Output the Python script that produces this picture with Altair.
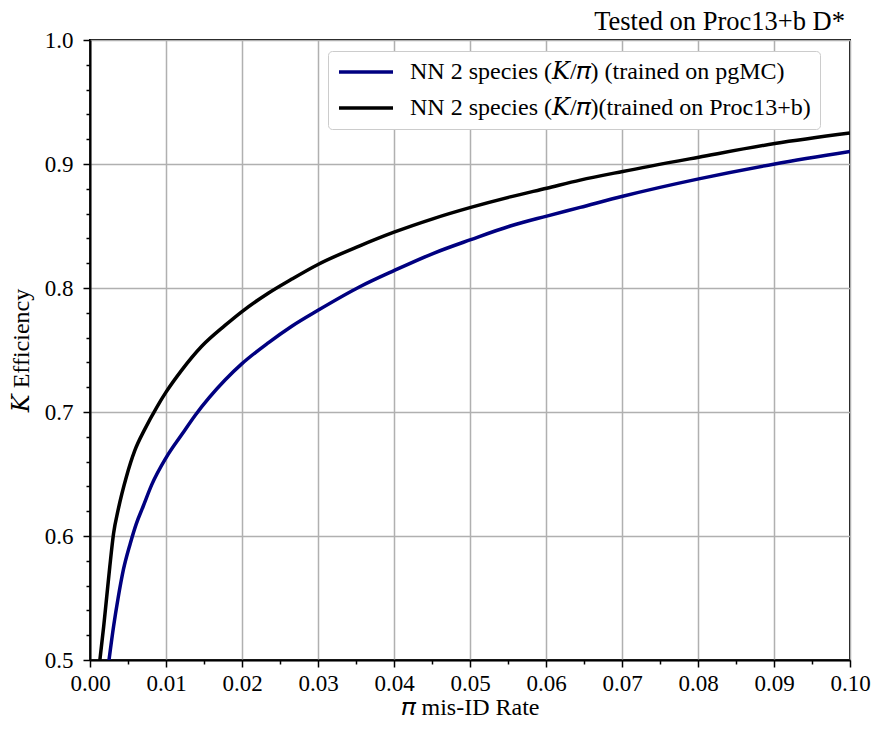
import altair as alt
import pandas as pd

# --- data ---
x_proc = [0.0013, 0.0018, 0.0022, 0.0026, 0.0031, 0.0037, 0.0048, 0.0059, 0.0072, 0.0088,
          0.0100, 0.0121, 0.0147, 0.0178, 0.0200, 0.0235, 0.0265, 0.0300, 0.0355, 0.0400,
          0.0452, 0.0501, 0.0553, 0.0601, 0.0645, 0.0701, 0.0801, 0.0901, 0.1000]
y_proc = [0.500, 0.527, 0.551, 0.575, 0.602, 0.621, 0.648, 0.669, 0.686, 0.704,
          0.716, 0.734, 0.753, 0.770, 0.781, 0.796, 0.807, 0.819, 0.834, 0.845,
          0.856, 0.865, 0.8735, 0.8805, 0.887, 0.894, 0.9055, 0.9165, 0.925]

x_pgmc = [0.0025, 0.0031, 0.0037, 0.0044, 0.0053, 0.0061, 0.0070, 0.0081, 0.0100, 0.0121,
          0.0138, 0.0178, 0.0200, 0.0235, 0.0265, 0.0300, 0.0355, 0.0400, 0.0452, 0.0501,
          0.0553, 0.0601, 0.0645, 0.0701, 0.0801, 0.0901, 0.1000]
y_pgmc = [0.500, 0.527, 0.550, 0.573, 0.594, 0.610, 0.624, 0.641, 0.663, 0.682,
          0.697, 0.726, 0.739, 0.756, 0.769, 0.782, 0.801, 0.814, 0.828, 0.839,
          0.850, 0.858, 0.865, 0.874, 0.888, 0.900, 0.910]

label_pgmc = "NN 2 species (𝐾/𝜋) (trained on pgMC)"
label_proc = "NN 2 species (𝐾/𝜋)(trained on Proc13+b)"
series_labels = [label_pgmc, label_proc]
series_colors = ["#000080", "#000000"]

x_major = [0.00, 0.01, 0.02, 0.03, 0.04, 0.05, 0.06, 0.07, 0.08, 0.09, 0.10]
x_minor = [0.005, 0.015, 0.025, 0.035, 0.045, 0.055, 0.065, 0.075, 0.085, 0.095]
y_major = [0.5, 0.6, 0.7, 0.8, 0.9, 1.0]
y_minor = [0.52, 0.54, 0.56, 0.58, 0.62, 0.64, 0.66, 0.68, 0.72, 0.74, 0.76, 0.78,
           0.82, 0.84, 0.86, 0.88, 0.92, 0.94, 0.96, 0.98]

df = pd.concat([
    pd.DataFrame({"x": x_pgmc, "y": y_pgmc, "series": label_pgmc, "order": range(len(x_pgmc))}),
    pd.DataFrame({"x": x_proc, "y": y_proc, "series": label_proc, "order": range(len(x_proc))}),
])

FONT = "Liberation Serif, DejaVu Serif, serif"
xscale = alt.Scale(domain=[0, 0.1], nice=False, zero=False)
yscale = alt.Scale(domain=[0.5, 1.0], nice=False, zero=False)

lines = alt.Chart(df).mark_line(strokeWidth=3.5, clip=True, interpolate="monotone").encode(
    x=alt.X("x:Q", scale=xscale,
            axis=alt.Axis(values=x_major, format=".2f", title="𝜋 mis-ID Rate", orient="bottom",
                          grid=True, titlePadding=0, labelFlush=False, labelPadding=5)),
    y=alt.Y("y:Q", scale=yscale,
            axis=alt.Axis(values=y_major, format=".1f", title="𝐾 Efficiency", orient="left",
                          grid=True, titlePadding=11, labelFlush=False, labelPadding=10)),
    color=alt.Color("series:N",
                    scale=alt.Scale(domain=series_labels, range=series_colors),
                    legend=alt.Legend(title=None, orient="none", legendX=238, legendY=11,
                                      symbolType="stroke", symbolSize=2916, symbolStrokeWidth=3.5,
                                      labelFont=FONT, labelFontSize=24, labelLimit=700,
                                      labelColor="black", rowPadding=12, padding=9,
                                      clipHeight=24,
                                      fillColor="white", strokeColor="#cccccc",
                                      cornerRadius=4, symbolOffset=0, labelOffset=15)),
    order="order:O",
)

minor = alt.Chart(df).mark_point(opacity=0).encode(
    x=alt.X("x:Q", scale=xscale,
            axis=alt.Axis(values=x_minor, labels=False, tickSize=4, grid=False, title=None,
                          orient="bottom", domain=False)),
    y=alt.Y("y:Q", scale=yscale,
            axis=alt.Axis(values=y_minor, labels=False, tickSize=4, grid=False, title=None,
                          orient="left", domain=False)),
)

chart = alt.layer(minor, lines).resolve_axis(x="independent", y="independent").properties(
    width=760, height=620,
    title=alt.TitleParams("Tested on Proc13+b D*", anchor="end", frame="group",
                          font=FONT, fontSize=26.5, fontWeight="normal", color="black",
                          offset=0, dy=6, dx=-5),
    autosize=alt.AutoSizeParams(type="none"),
    padding={"left": 90, "top": 40, "right": 25, "bottom": 80},
).configure_view(
    stroke="black", strokeWidth=2
).configure_axis(
    labelFont=FONT, labelFontSize=23, labelColor="black",
    titleFont=FONT, titleFontSize=24, titleFontWeight="normal", titleColor="black",
    domainColor="black", domainWidth=2, tickColor="black", tickWidth=1.5, tickSize=7,
    gridColor="#b0b0b0", gridWidth=1.5,
)

chart.save("out.html", embed_options={"renderer": "svg", "actions": False})
